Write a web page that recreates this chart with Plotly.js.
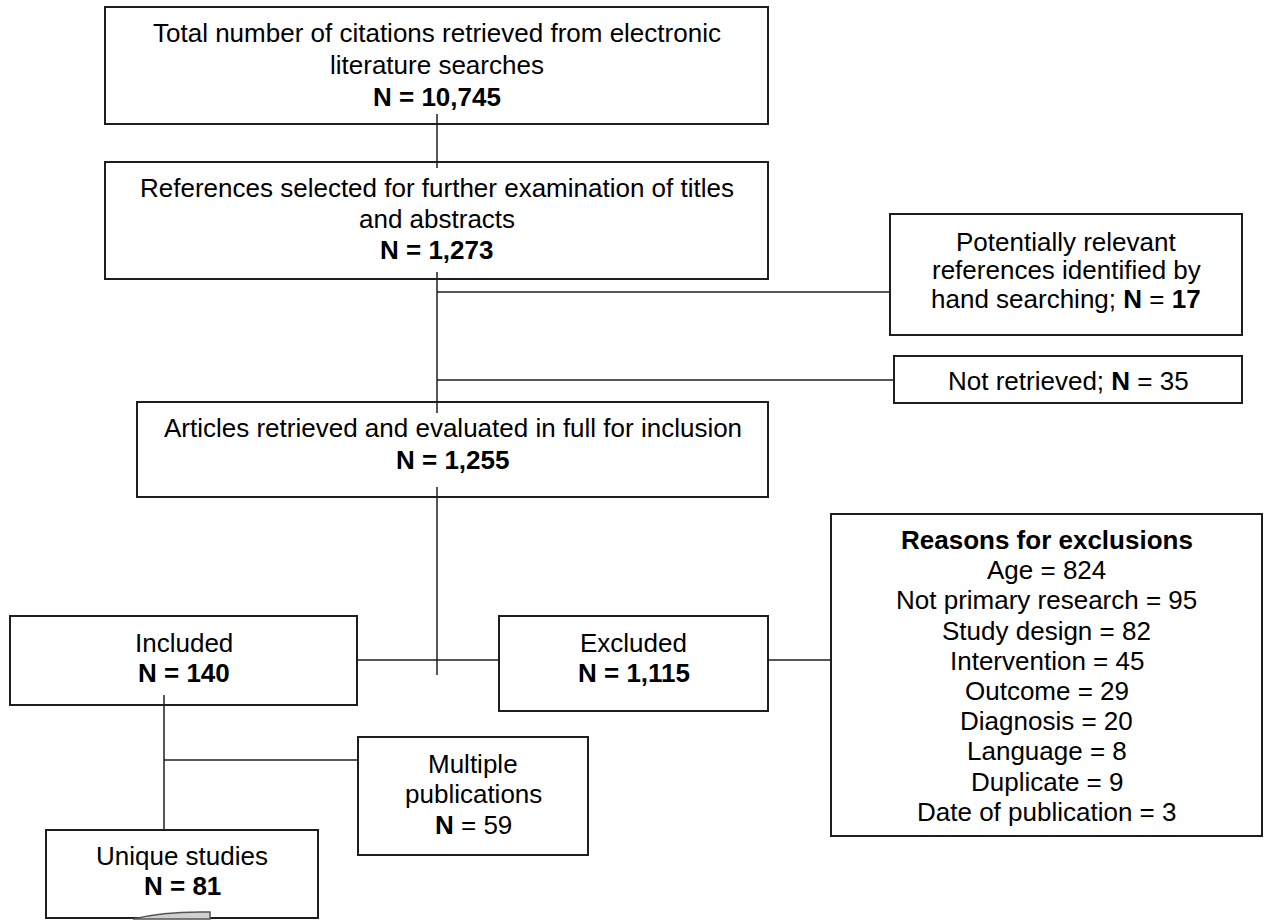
<!DOCTYPE html>
<html>
<head>
<meta charset="utf-8">
<script src="https://cdn.plot.ly/plotly-3.0.1.min.js"></script>
<style>html,body{margin:0;padding:0;background:#fff;}#chart{width:1265px;height:920px;}</style>
</head>
<body>
<div id="chart"></div>
<script>
// ---- data ----
const stageNames = ['search', 'screen', 'hand', 'notRetrieved', 'fullText', 'included', 'excluded', 'multiple', 'unique'];
const stageTexts = [
  ['Total number of citations retrieved from electronic', 'literature searches'],
  ['References selected for further examination of titles', 'and abstracts'],
  ['Potentially relevant', 'references identified by', 'hand searching;'],
  ['Not retrieved;'],
  ['Articles retrieved and evaluated in full for inclusion'],
  ['Included'],
  ['Excluded'],
  ['Multiple', 'publications'],
  ['Unique studies']
];
const stageCounts = [10745, 1273, 17, 35, 1255, 140, 1115, 59, 81];
const reasonTitle = 'Reasons for exclusions';
const reasonLabels = ['Age', 'Not primary research', 'Study design', 'Intervention', 'Outcome', 'Diagnosis', 'Language', 'Duplicate', 'Date of publication'];
const reasonCounts = [824, 95, 82, 45, 29, 20, 8, 9, 3];

// ---- geometry (pixels, y downward) ----
const geom = {
  search:       {x0: 105, x1: 768, y0: 7,   y1: 124, lines: [33, 65, 97],   inline: false},
  screen:       {x0: 105, x1: 768, y0: 162, y1: 279, lines: [188, 219, 250], inline: false},
  hand:         {x0: 890, x1: 1242, y0: 214, y1: 335, lines: [242, 270, 299], inline: true},
  notRetrieved: {x0: 894, x1: 1242, y0: 356, y1: 403, lines: [381], inline: true},
  fullText:     {x0: 137, x1: 768, y0: 402, y1: 497, lines: [428, 460], inline: false},
  included:     {x0: 10,  x1: 357, y0: 616, y1: 705, lines: [643, 673], inline: false},
  excluded:     {x0: 499, x1: 768, y0: 616, y1: 711, lines: [643, 673], inline: false},
  multiple:     {x0: 358, x1: 588, y0: 737, y1: 855, lines: [764, 794, 825], inline: false},
  unique:       {x0: 46,  x1: 318, y0: 830, y1: 918, lines: [856, 886], inline: false}
};
const reasonsBox = {x0: 831, x1: 1262, y0: 514, y1: 836, top: 540, step: 30.2};
const connectors = [
  [437, 114, 437, 168],
  [437, 272, 437, 413],
  [437, 292, 890, 292],
  [437, 380, 894, 380],
  [437, 487, 437, 675],
  [357, 660, 499, 660],
  [768, 660, 831, 660],
  [164, 695, 164, 830],
  [164, 760, 358, 760]
];

const FONT = {family: 'Liberation Sans, Arial, sans-serif', size: 26, color: '#000'};
const fmt = n => n.toLocaleString('en-US');

const shapes = [];
const annotations = [];
function ann(x, y, text) {
  annotations.push({x: x, y: y, xref: 'x', yref: 'y', text: text, showarrow: false,
    xanchor: 'center', yanchor: 'middle', font: FONT});
}
function rect(g) {
  shapes.push({type: 'rect', xref: 'x', yref: 'y', x0: g.x0, x1: g.x1, y0: g.y0, y1: g.y1,
    line: {color: '#1e1e1e', width: 2}, fillcolor: 'rgba(0,0,0,0)', layer: 'above'});
}

connectors.forEach(c => shapes.push({type: 'line', xref: 'x', yref: 'y', x0: c[0], y0: c[1], x1: c[2], y1: c[3],
  line: {color: '#1e1e1e', width: 1.5}}));

stageNames.forEach((name, i) => {
  const g = geom[name];
  rect(g);
  const cx = (g.x0 + g.x1) / 2;
  const texts = stageTexts[i].slice();
  const countText = '<b>N</b> = ' + fmt(stageCounts[i]);
  const boldCount = '<b>N = ' + fmt(stageCounts[i]) + '</b>';
  if (g.inline) {
    texts[texts.length - 1] = texts[texts.length - 1] + ' ' + (name === 'hand' ? '<b>N</b> = <b>' + fmt(stageCounts[i]) + '</b>' : countText);
  } else {
    texts.push(name === 'multiple' ? countText : boldCount);
  }
  texts.forEach((t, k) => ann(cx, g.lines[k], t));
});

rect(reasonsBox);
const rcx = (reasonsBox.x0 + reasonsBox.x1) / 2;
ann(rcx, reasonsBox.top, '<b>' + reasonTitle + '</b>');
reasonLabels.forEach((lab, k) => ann(rcx, reasonsBox.top + reasonsBox.step * (k + 1), lab + ' = ' + reasonCounts[k]));

// small page-curl mark under the last box
shapes.push({type: 'path', xref: 'x', yref: 'y', path: 'M 133 919 Q 165 911 210 912 L 210 919 Z',
  fillcolor: '#d0d0d0', line: {color: '#555', width: 1.5}});

const layout = {
  width: 1265, height: 920,
  margin: {l: 0, r: 0, t: 0, b: 0},
  paper_bgcolor: '#fff', plot_bgcolor: '#fff',
  xaxis: {range: [0, 1265], visible: false, fixedrange: true},
  yaxis: {range: [920, 0], visible: false, fixedrange: true},
  shapes: shapes,
  annotations: annotations,
  showlegend: false
};
Plotly.newPlot('chart', [], layout, {staticPlot: true, displayModeBar: false});
</script>
</body>
</html>
